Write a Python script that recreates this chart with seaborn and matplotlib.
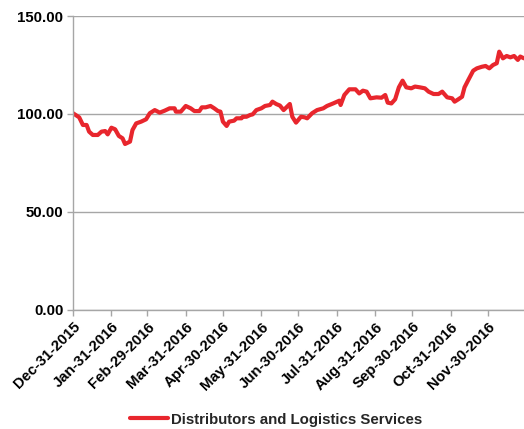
import matplotlib
matplotlib.use("Agg")
import matplotlib.dates as mdates
import pandas as pd
import seaborn as sns
from matplotlib import pyplot as plt

sns.set_style("white")
plt.rcParams["font.family"] = ["Liberation Sans", "DejaVu Sans"]

series_name = "Distributors and Logistics Services"

dates = [
    "2015-12-31", "2016-01-05", "2016-01-08", "2016-01-11", "2016-01-13", "2016-01-16",
    "2016-01-20", "2016-01-23", "2016-01-26", "2016-01-28", "2016-01-31", "2016-02-03",
    "2016-02-06", "2016-02-09", "2016-02-11", "2016-02-15", "2016-02-17", "2016-02-20",
    "2016-02-24", "2016-02-28", "2016-03-02", "2016-03-06", "2016-03-10", "2016-03-14",
    "2016-03-18", "2016-03-22", "2016-03-23", "2016-03-27", "2016-03-31", "2016-04-04",
    "2016-04-07", "2016-04-11", "2016-04-13", "2016-04-16", "2016-04-20", "2016-04-23",
    "2016-04-26", "2016-04-28", "2016-04-30", "2016-05-03", "2016-05-05", "2016-05-09",
    "2016-05-11", "2016-05-15", "2016-05-16", "2016-05-19", "2016-05-22", "2016-05-24",
    "2016-05-27", "2016-05-31", "2016-06-03", "2016-06-07", "2016-06-09", "2016-06-12",
    "2016-06-15", "2016-06-18", "2016-06-23", "2016-06-25", "2016-06-28", "2016-07-02",
    "2016-07-05", "2016-07-07", "2016-07-11", "2016-07-15", "2016-07-20", "2016-07-23",
    "2016-07-28", "2016-08-02", "2016-08-03", "2016-08-06", "2016-08-10", "2016-08-15",
    "2016-08-18", "2016-08-21", "2016-08-24", "2016-08-27", "2016-09-01", "2016-09-05",
    "2016-09-08", "2016-09-10", "2016-09-13", "2016-09-16", "2016-09-19", "2016-09-22",
    "2016-09-25", "2016-09-29", "2016-10-02", "2016-10-06", "2016-10-10", "2016-10-13",
    "2016-10-17", "2016-10-21", "2016-10-24", "2016-10-28", "2016-11-01", "2016-11-03",
    "2016-11-06", "2016-11-09", "2016-11-11", "2016-11-14", "2016-11-18", "2016-11-21",
    "2016-11-25", "2016-11-28", "2016-12-01", "2016-12-04", "2016-12-07", "2016-12-09",
    "2016-12-12", "2016-12-15", "2016-12-18", "2016-12-21", "2016-12-24", "2016-12-26",
    "2016-12-29",
]

values = [
    100.4, 98.3, 94.4, 94.4, 91.0, 89.3,
    89.3, 91.0, 91.3, 89.6, 93.0, 92.2,
    88.8, 87.6, 84.7, 85.9, 91.8, 95.2,
    96.1, 97.3, 100.4, 102.0, 100.7, 101.7,
    102.9, 102.9, 101.2, 101.2, 104.1, 102.9,
    101.5, 101.5, 103.4, 103.4, 104.1, 102.9,
    101.5, 101.2, 96.1, 93.9, 96.1, 96.6,
    97.8, 97.8, 98.6, 98.6, 99.5, 99.8,
    102.0, 102.9, 104.1, 104.6, 106.3, 105.1,
    104.3, 102.0, 105.1, 98.6, 95.6, 98.6,
    98.3, 97.8, 100.4, 102.0, 102.9, 104.1,
    105.4, 106.8, 104.6, 109.7, 112.6, 112.6,
    110.5, 111.9, 111.4, 108.0, 108.5, 108.3,
    109.7, 105.8, 105.4, 107.5, 113.6, 117.0,
    113.6, 113.1, 114.0, 113.6, 113.1, 111.4,
    110.2, 110.2, 111.4, 108.5, 108.0, 106.3,
    107.5, 108.8, 113.6, 117.3, 122.1, 123.3,
    124.1, 124.5, 123.3, 125.0, 125.9, 131.8,
    128.4, 129.6, 128.9, 129.6, 127.6, 129.3,
    128.4,
]

tick_dates = [
    "2015-12-31", "2016-01-31", "2016-02-29", "2016-03-31", "2016-04-30", "2016-05-31",
    "2016-06-30", "2016-07-31", "2016-08-31", "2016-09-30", "2016-10-31", "2016-11-30",
]
y_ticks = [0, 50, 100, 150]

df = pd.DataFrame({"date": pd.to_datetime(dates), "value": values, "series": series_name})

fig = plt.figure(figsize=(5.24, 4.29), dpi=100)
ax = fig.add_axes([0.1393, 0.2774, 0.8607, 0.6853])

sns.lineplot(data=df, x="date", y="value", hue="series", palette=["#e8262d"],
             linewidth=3.0, ax=ax)

grid_c = "#a6a6a6"
fs = 10.8
ax.set_ylim(0, 150)
ax.set_yticks(y_ticks)
ax.set_yticklabels([f"{v:.2f}" for v in y_ticks], fontsize=fs, fontweight="bold")
ax.yaxis.grid(True, color=grid_c, linewidth=1)
ax.set_axisbelow(True)

ax.set_xlim(pd.Timestamp("2015-12-31"), pd.Timestamp("2016-12-29"))
ax.set_xticks(pd.to_datetime(tick_dates))
ax.xaxis.set_major_formatter(mdates.DateFormatter("%b-%d-%Y"))
plt.setp(ax.get_xticklabels(), rotation=45, ha="right", rotation_mode="anchor",
         fontsize=fs, fontweight="bold")

ax.tick_params(axis="both", direction="out", length=4, width=1, color=grid_c,
               labelcolor="black", pad=3, left=True, bottom=True)
ax.set_xlabel("")
ax.set_ylabel("")
for side in ["top", "right"]:
    ax.spines[side].set_visible(False)
for side in ["left", "bottom"]:
    ax.spines[side].set_color(grid_c)
    ax.spines[side].set_linewidth(1)

ax.legend(loc="center", bbox_to_anchor=(0.527, 0.022), bbox_transform=fig.transFigure,
          frameon=False, prop={"size": fs, "weight": "bold"}, handlelength=2.5,
          handletextpad=0.2)

fig.savefig("out.png", dpi=100)
